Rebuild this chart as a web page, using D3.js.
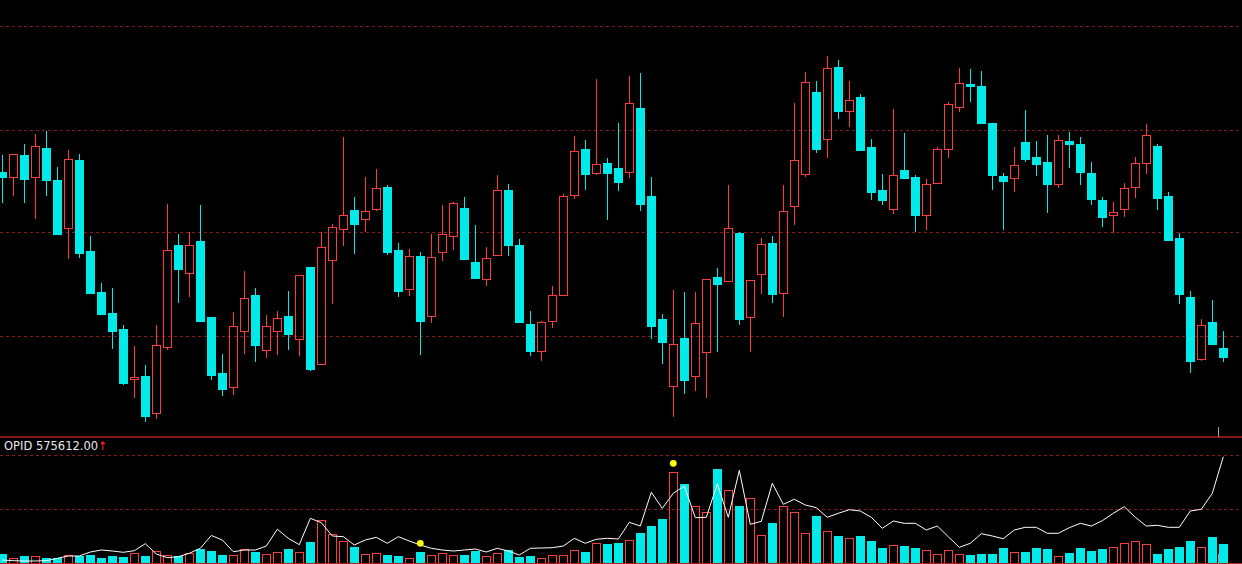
<!DOCTYPE html>
<html><head><meta charset="utf-8">
<script src="https://cdn.jsdelivr.net/npm/d3@7"></script>
<style>html,body{margin:0;padding:0;background:#000;overflow:hidden}</style>
</head><body><svg id="c" width="1242" height="564"></svg>
<script>
const OPEN = [268.3,262.7,285,262.7,291.7,260,211.7,280,189,148,
127,111,60.7,64,26.7,93.3,194.7,167.3,199,123,
67,52.7,109.3,145,90.3,109.3,124,100.7,173,76.3,
179.7,210.7,230,221.3,231.3,253,190,151.3,184,124.3,
187.7,204.3,232,178,161.3,184.7,250,195,116,88.7,
118.7,145.3,245.3,291,266.7,276.7,272,267.7,332,244,
121,53.7,102,63.7,87.7,163,158.7,207,122.7,165.7,
197,146.7,233.7,265.7,348,300.7,373,328.7,343,293,
250,230.7,270,263,224.7,257.3,290.7,332.7,356.3,354,
317.3,264,262.3,298,283,278,256.3,299,296,267,
240,225.3,230.7,252.7,276.7,294,244,202,143,80.7,
118,92];
const HIGH = [285,285.7,296,306,309,272.7,290,286,204,157,
152,115,93.7,75,115,236,206,207.7,235,123,
86,128,169,152,125,129.3,149,165,173,208,
216,303,243,263,271,254.7,197,191,188,206,
235,238,243,215,193,265,256,201,129,119,
153.7,245.7,304,300,361,282,316.7,364,367,263,
126,150,148,148,161,171.7,255,208,159.7,202,
204,255,337,368,359,384,380,359,345.7,301,
266,331,307,264.7,261,293.3,337.7,372,371,369,
317.3,267,293.3,330,299,305,305,308,303,278,
242.7,238,257.3,283.3,316,296,248,207,149,121,
140,109];
const LOW = [236.7,244,236.7,220.7,244,205.3,181.3,181.7,146.3,125.3,
91.3,55,42.3,17.7,20.7,90,136.7,143.3,118.3,60.3,
44,45.3,86.3,78.3,82,85,90,84,69.3,76.3,
136.3,194,186.3,208,229.3,185.3,143.3,144.3,85.3,117.3,
179.3,190,181.3,162.3,154.3,184.7,184.3,117.3,84.3,79.3,
112.3,145.3,241.3,250,264.7,220.3,249.3,262.3,229.3,101.3,
75.7,23.3,45.7,49.3,41.7,88.3,158.7,115,88.3,146,
137.3,123,215.3,263.3,287.3,282.3,321.3,313.3,290,240.3,
235.3,226.3,261.3,208.3,210.3,257.3,282.3,328.3,338.3,316.3,
250.3,210,248.3,278.3,264.3,227.3,252.3,272.3,255.3,235.3,
213.3,207.3,223.3,242.3,265.7,230.3,199.3,136.3,66.7,79.3,
95.3,78.3];
const CLOSE = [263.3,285.7,261,293.7,260.3,206.3,280.7,187.3,147.3,126.3,
109.3,57,63,24.3,94.7,189.7,171.3,194.7,119,65,
51.3,113.7,141.7,95,113.7,121.7,106.3,165,71.3,193,
213,224.7,216.3,228.7,251.7,188,149.3,183.7,119.3,182.7,
205.7,236.7,181.3,162.3,181.7,249.7,195.3,118.3,89.3,117.7,
144.7,243.7,289,266.3,275.7,267.3,258.3,337,236.3,114.3,
98.3,95.7,60.3,116.7,161,156.3,211.7,121.3,159.7,195.7,
146.3,228.7,279.7,357.7,291.3,371.7,329.3,339.7,290,248.3,
240.3,264.7,262.3,225.3,255.7,290.7,336,357,354.3,317.3,
265.3,259.3,275,281.3,276.3,256.3,299.7,296.3,268.3,241.3,
223.3,227.7,251.7,277,305,242.3,200.3,146.3,79.3,115,
96.3,83.3];
const VOLUME = [9.2,5.2,7.5,7.2,5.2,5.2,8.2,7.5,8.2,5.5,
7.8,6.5,10.2,7.5,12.5,8.2,7.8,10.2,14.5,12.8,
8.8,8.5,14.5,11.5,9.2,11.2,14.8,11.2,21.5,43.5,
29.2,22.5,16.5,9.5,10.5,8.5,7.8,5.5,11.5,8.5,
10.5,8.5,8.5,12.5,7.5,10.5,13.2,6.5,7.5,5.2,
8.5,8.5,13.5,11.5,20.5,19.5,20.2,23.2,30.8,37.5,
44.8,91.2,79.5,57.2,51.5,94.5,73.2,57.5,65.2,28.2,
40.8,57.2,51.5,30.5,47.5,32.5,27.5,25.2,27.5,22.8,
15.5,18.5,17.5,15.5,13.5,9.2,13.5,9.2,8.5,9.5,
9.5,15.5,11.5,11.5,15.5,14.5,7.2,10.5,15.5,12.5,
14.5,16.5,20.2,22.5,19.2,9.5,14.5,16.5,22.5,16.5,
26.5,19.5];
const OPID = [3.5,2.8,2.5,2.5,2.8,5.2,7.5,7.5,11.5,13.5,
12.5,11.2,12.8,19.8,9.5,5.8,6.8,10.2,15.2,28,
23.5,11.8,13.5,13.5,17.5,34.2,25.2,18.8,45.2,40.8,
27.5,26.8,18.5,23.5,26.2,20.2,26.8,22.5,18.5,15.2,
13.5,12.5,13.5,14.5,11.5,15.2,12.5,8.5,15.2,15.5,
15.8,17.5,25.2,20.2,24.2,25.2,24.5,41.2,37.5,71.2,
55.2,70.2,77.5,45.8,46.2,79.5,46.2,93.2,39.2,42.2,
80.2,59.2,64.2,58.5,55.8,46.2,50.2,53.8,52.5,46.2,
35.2,42.5,40.2,40.2,33.5,37.5,26.8,16.2,20.2,29.8,
27.5,24.8,33.5,36.2,36.2,30.2,30.2,35.8,40.2,37.5,
42.8,50.2,56.8,46.2,37.5,38.2,36.2,36.2,52.5,54.2,
70.2,106.8];
const PRICE_GRID = [413.5, 310.5, 207.5, 104.5];
const VOLUME_GRID = [54.25, 108.5];
const MARK_INDEX = [38, 61];
const MARK_VALUE = [20.2, 100.2];
const LABEL_NAME = "OPID";
const LABEL_VALUE = "575612.00";
const LABEL_ARROW = "↑";

const UP = "#ff3c3c", DOWN = "#00eaea", GRID = "#8b1a1a", SEP = "#b02020";
const N = OPEN.length;
const svg = d3.select("#c");
svg.append("rect").attr("width",1242).attr("height",564).attr("fill","#000");

const x = d3.scaleBand().domain(d3.range(N)).range([-3.2, 1228.8])
  .paddingInner(2/11).paddingOuter(1/11);
const yP = d3.scaleLinear().domain([0, 440]).range([440, 0]);
const yV = d3.scaleLinear().domain([0, 108.5]).range([563.5, 455]);
const px = v => Math.round(v);

// price grid
svg.append("g").selectAll("line").data(PRICE_GRID).join("line")
  .attr("x1",0).attr("x2",1242)
  .attr("y1",d=>px(yP(d))+0.5).attr("y2",d=>px(yP(d))+0.5)
  .attr("stroke",GRID).attr("stroke-dasharray","3,3").attr("stroke-width",1);
// volume grid
svg.append("g").selectAll("line").data(VOLUME_GRID).join("line")
  .attr("x1",0).attr("x2",1242)
  .attr("y1",d=>px(yV(d))+0.5).attr("y2",d=>px(yV(d))+0.5)
  .attr("stroke",GRID).attr("stroke-dasharray","3,3").attr("stroke-width",1);

// candles
const cg = svg.append("g");
d3.range(N).forEach(i => {
  const up = CLOSE[i] > OPEN[i];
  const left = px(x(i));
  const wx = left + 4.5;
  const top = px(yP(Math.max(OPEN[i], CLOSE[i])));
  const bot = px(yP(Math.min(OPEN[i], CLOSE[i])));
  const hy = px(yP(HIGH[i])), ly = px(yP(LOW[i]));
  if (up) {
    if (hy < top) cg.append("line").attr("x1",wx).attr("x2",wx).attr("y1",hy).attr("y2",top).attr("stroke",UP);
    if (ly > bot) cg.append("line").attr("x1",wx).attr("x2",wx).attr("y1",bot+1).attr("y2",ly).attr("stroke",UP);
    cg.append("rect").attr("x",left+0.5).attr("y",top+0.5)
      .attr("width",x.bandwidth()-1).attr("height",Math.max(1,bot-top))
      .attr("fill","none").attr("stroke",UP).attr("stroke-width",1);
  } else {
    cg.append("line").attr("x1",wx).attr("x2",wx).attr("y1",hy).attr("y2",ly).attr("stroke",DOWN);
    cg.append("rect").attr("x",left).attr("y",top)
      .attr("width",x.bandwidth()).attr("height",Math.max(2,bot-top+1))
      .attr("fill",DOWN);
  }
});

// separator lines
svg.append("line").attr("x1",0).attr("x2",1242).attr("y1",437).attr("y2",437)
  .attr("stroke",SEP).attr("stroke-width",1.6);

// volume bars
const vg = svg.append("g");
d3.range(N).forEach(i => {
  const up = CLOSE[i] > OPEN[i];
  const left = px(x(i));
  const top = px(yV(VOLUME[i]));
  const base = 564;
  if (up) {
    vg.append("rect").attr("x",left+0.5).attr("y",top+0.5)
      .attr("width",x.bandwidth()-1).attr("height",base-top)
      .attr("fill","none").attr("stroke",UP);
  } else {
    vg.append("rect").attr("x",left).attr("y",top)
      .attr("width",x.bandwidth()).attr("height",base-top).attr("fill",DOWN);
  }
});
svg.append("line").attr("x1",0).attr("x2",1242).attr("y1",563.5).attr("y2",563.5)
  .attr("stroke",SEP).attr("stroke-width",1);

// OPID line
const line = d3.line().x((d,i)=>x(i)+x.bandwidth()/2).y(d=>yV(d));
svg.append("path").datum(OPID).attr("d",line).attr("fill","none")
  .attr("stroke","#ffffff").attr("stroke-width",1);

// marker dots
svg.append("g").selectAll("circle").data(MARK_INDEX).join("circle")
  .attr("cx",d=>x(d)+x.bandwidth()/2).attr("cy",(d,k)=>yV(MARK_VALUE[k]))
  .attr("r",3.4).attr("fill","#ffff00");

// cursor tick
const cx = px(x(N-1)) - 0.5;
svg.append("line").attr("x1",cx).attr("x2",cx).attr("y1",427).attr("y2",437).attr("stroke","#a0a0a0");
svg.append("line").attr("x1",cx).attr("x2",cx).attr("y1",554).attr("y2",564).attr("stroke","#a0a0a0");

// label
const t = svg.append("text").attr("x",4).attr("y",450)
  .attr("font-family","DejaVu Sans, Tahoma, sans-serif").attr("font-size",11.5)
  .attr("fill","#e8e8e8");
t.append("tspan").text(LABEL_NAME + " " + LABEL_VALUE);
t.append("tspan").attr("fill","#ff3030").text(LABEL_ARROW);
</script></body></html>
